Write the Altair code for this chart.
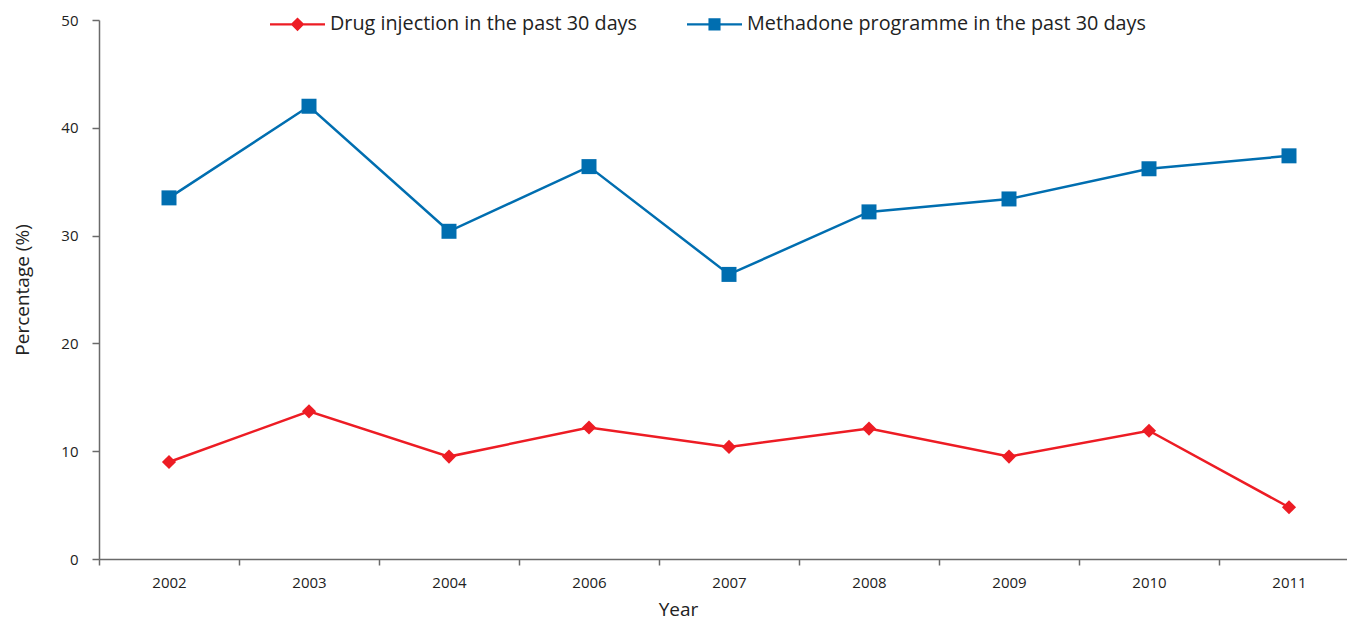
import altair as alt
import pandas as pd

years = ["2002", "2003", "2004", "2006", "2007", "2008", "2009", "2010", "2011"]
drug_injection = [9.0, 13.7, 9.5, 12.2, 10.4, 12.1, 9.5, 11.9, 4.8]
methadone = [33.5, 42.0, 30.4, 36.4, 26.4, 32.2, 33.4, 36.2, 37.4]
series_names = ["Drug injection in the past 30 days", "Methadone programme in the past 30 days"]
series_colors = ["#ED1C24", "#006EB0"]
series_shapes = ["diamond", "square"]

# legend symbols: a line with a marker in the middle (unit coordinates)
legend_paths = [
    "M-1,-0.04L1,-0.04L1,0.04L-1,0.04Z M0,-0.25L0.25,0L0,0.25L-0.25,0Z",
    "M-1,-0.04L1,-0.04L1,0.04L-1,0.04Z M-0.22,-0.22L0.22,-0.22L0.22,0.22L-0.22,0.22Z",
]

rows = []
for vals, name, col, shp in zip([drug_injection, methadone], series_names, series_colors, series_shapes):
    for y, v in zip(years, vals):
        rows.append({"Year": y, "Value": v, "Series": name, "col": col, "shp": shp})
df = pd.DataFrame(rows)

FONT = "Open Sans"
W, H = 1248, 539

x = alt.X(
    "Year:N",
    sort=years,
    scale=alt.Scale(type="band", paddingInner=0, paddingOuter=0, range=[0, 1260]),
    axis=alt.Axis(
        title="Year", tickBand="extent", labelAngle=0, tickSize=6, labelPadding=10,
        labelFontSize=15, labelFont=FONT, labelColor="#222222",
        titleFontSize=19, titleFont=FONT, titleFontWeight="normal", titleColor="#222222",
        titleX=579, titleY=50, titleBaseline="middle", titleAnchor="start", titleAlign="center",
        domainColor="#6a6a6a", tickColor="#6a6a6a", domainWidth=1.5, tickWidth=1.5,
    ),
)
y = alt.Y(
    "Value:Q",
    scale=alt.Scale(domain=[0, 50], nice=False),
    axis=alt.Axis(
        title="Percentage (%)", values=[0, 10, 20, 30, 40, 50], tickSize=7, labelPadding=14,
        labelFontSize=15, labelFont=FONT, labelColor="#222222", grid=False,
        titleFontSize=19, titleFont=FONT, titleFontWeight="normal", titleColor="#222222",
        titleX=-77, titleY=H / 2, titleAngle=-90, titleBaseline="middle", titleAlign="center",
        titleAnchor="start",
        domainColor="#6a6a6a", tickColor="#6a6a6a", domainWidth=1.5, tickWidth=1.5,
    ),
)

base = alt.Chart(df)

lines = base.mark_line(strokeWidth=2.5).encode(
    x=x, y=y,
    color=alt.Color("col:N", scale=None),
    detail="Series:N",
)

points = base.mark_point(filled=True, opacity=1).encode(
    x=x, y=y,
    color=alt.Color("col:N", scale=None),
    shape=alt.Shape("shp:N", scale=None),
    size=alt.condition(alt.datum.shp == "square", alt.value(225), alt.value(200)),
)

legend_layer = base.mark_point(filled=True, opacity=0).encode(
    x=x, y=y,
    color=alt.Color(
        "Series:N",
        scale=alt.Scale(domain=series_names, range=series_colors),
        legend=alt.Legend(
            title=None, orient="none", legendX=171, legendY=-23.5, direction="horizontal",
            symbolSize=3025, symbolOpacity=1, symbolStrokeWidth=0, labelOffset=5,
            columnPadding=50, labelFontSize=19.8, labelFont=FONT, labelColor="#222222",
            labelLimit=500,
        ),
    ),
    shape=alt.Shape("Series:N", scale=alt.Scale(domain=series_names, range=legend_paths)),
)

chart = alt.layer(lines, points, legend_layer).properties(
    width=W, height=H,
    autosize=alt.AutoSizeParams(type="none"),
    padding={"left": 91, "top": 12, "right": 0, "bottom": 65},
).configure_view(stroke=None)

chart.save("out.html", embed_options={"renderer": "svg", "actions": False})
